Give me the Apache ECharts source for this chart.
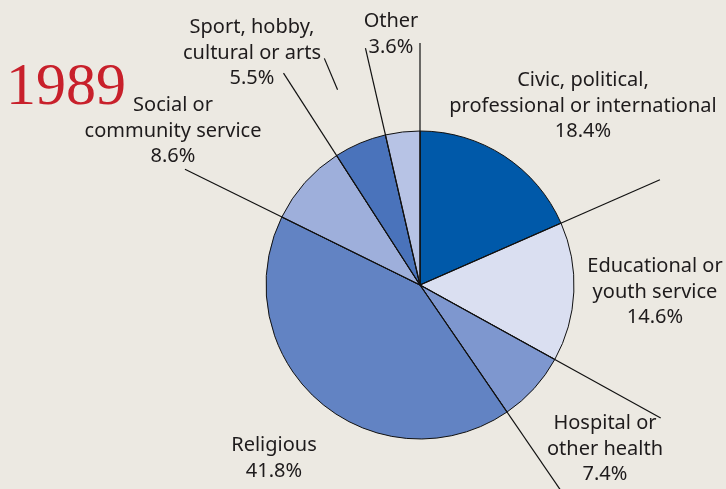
<!DOCTYPE html>
<html>
<head>
<meta charset="utf-8">
<script src="https://cdn.jsdelivr.net/npm/echarts@6/dist/echarts.min.js"></script>
<style>
  html, body { margin: 0; padding: 0; background: #ece9e2; }
  #chart { width: 726px; height: 489px; }
</style>
</head>
<body>
<div id="chart"></div>
<script>
// data, clockwise from 12 o'clock
var names = ['Civic, political,\nprofessional or international', 'Educational or\nyouth service',
  'Hospital or\nother health', 'Religious', 'Social or\ncommunity service',
  'Sport, hobby,\ncultural or arts', 'Other'];
var values = [18.4, 14.6, 7.4, 41.8, 8.6, 5.5, 3.6];
var colors = ['#0059a9', '#dadff1', '#7e97cf', '#6283c3', '#9eafdb', '#4a73bb', '#b7c3e5'];
var year = '1989';

// leader line length (px from centre) at the start of each slice
var leaderLen = [242, 262, 275, 262, 262, 252, 243];
// label centres [x, y of first line]
var labelPos = [[583, 78], [655, 264], [605, 421], [274, 443], [173, 103], [252, 25], [391, 19]];

var cx = 420, cy = 285, R = 154;

var pieData = [];
for (var i = 0; i < values.length; i++) {
  pieData.push({name: names[i], value: values[i], itemStyle: {color: colors[i]}});
}

// boundary angles (cumulative %)
var total = 0;
for (var i = 0; i < values.length; i++) total += values[i];
var starts = [], acc = 0;
for (var i = 0; i < values.length; i++) {
  starts.push(acc / total * 100);
  acc += values[i];
}

var series = [{
  type: 'pie',
  center: [cx, cy],
  radius: R,
  startAngle: 90,
  clockwise: true,
  label: {show: false},
  labelLine: {show: false},
  emphasis: {disabled: true},
  itemStyle: {borderColor: '#111', borderWidth: 1},
  data: pieData,
  z: 2
}];

function leader(r0, r1, a) {
  return {
    type: 'line',
    coordinateSystem: 'polar',
    data: [[r0, a], [r1, a]],
    symbol: 'none',
    silent: true,
    lineStyle: {color: '#111', width: 1.2},
    z: 5
  };
}
for (var i = 0; i < starts.length; i++) {
  series.push(leader(0, leaderLen[i], starts[i]));
}
// short leader on the sport slice
series.push(leader(212, 246, starts[5] + values[5] / total * 50));

var graphics = [{
  type: 'text', left: 6, top: 58,
  style: {text: year, font: '60px "Liberation Serif", serif', fill: '#c8202b'}
}];
for (var i = 0; i < names.length; i++) {
  graphics.push({
    type: 'text',
    x: labelPos[i][0], y: labelPos[i][1] - 10,
    style: {
      text: names[i] + '\n' + values[i].toFixed(1) + '%',
      font: '20px "Noto Sans", sans-serif',
      lineHeight: 25.5,
      fill: '#1e1b1c',
      align: 'center',
      verticalAlign: 'top'
    }
  });
}

var chart = echarts.init(document.getElementById('chart'));
chart.setOption({
  backgroundColor: '#ece9e2',
  animation: false,
  polar: {center: [cx, cy], radius: 300},
  radiusAxis: {type: 'value', min: 0, max: 300, show: false, splitLine: {show: false}},
  angleAxis: {type: 'value', min: 0, max: 100, startAngle: 90, clockwise: true, show: false, splitLine: {show: false}},
  graphic: graphics,
  series: series
});
</script>
</body>
</html>
